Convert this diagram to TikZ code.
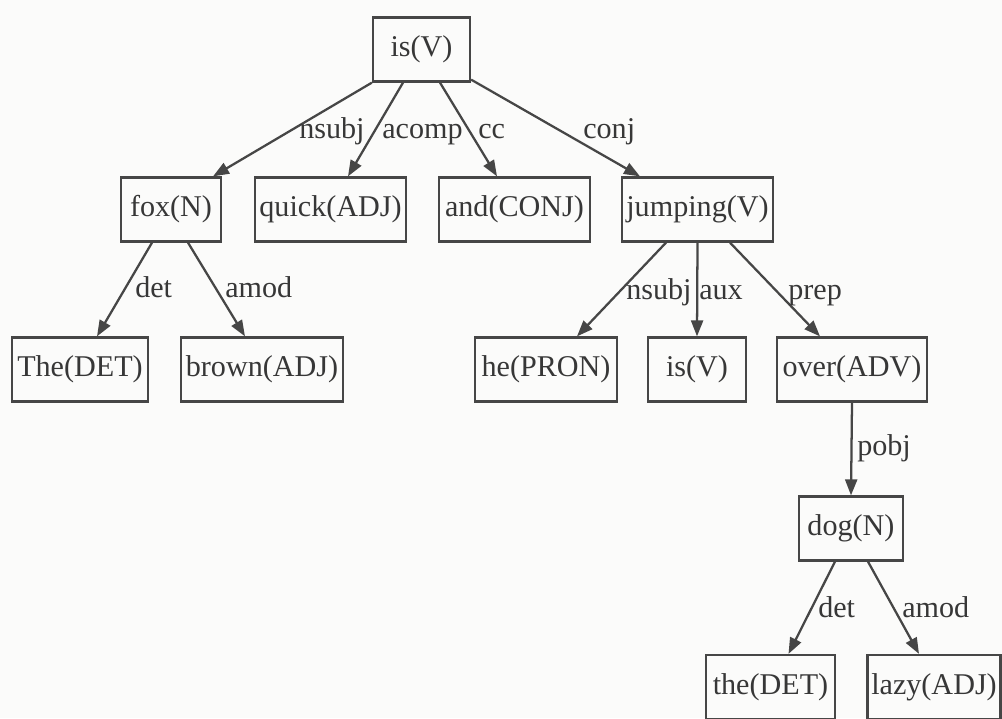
\documentclass[tikz,border=0pt]{standalone}
\usepackage{fontspec}
\setmainfont{Liberation Serif}
\usetikzlibrary{arrows.meta,calc}
\definecolor{paper}{RGB}{251,251,250}
\definecolor{ink}{RGB}{70,70,70}
\definecolor{txt}{RGB}{55,55,55}
\tikzset{
  box/.style={draw=ink, line width=1.7pt, rectangle, inner sep=0pt,
    minimum height=48pt, minimum width=#1, text=txt,
    font=\fontsize{22.6pt}{24pt}\selectfont},
  dep/.style={draw=ink, line width=1.7pt,
    -{Triangle[length=12pt,width=9pt]}},
  rel/.style={anchor=base west, inner sep=0pt, text=txt,
    font=\fontsize{22.6pt}{24pt}\selectfont}
}
\begin{document}
\begin{tikzpicture}[x=0.75pt,y=-0.75pt]
% page
\fill[paper] (0,0) rectangle (1002,718);
\useasboundingbox (0,0) rectangle (1002,718);

% words of the sentence
\node[box=72.75pt]  (isv)   at (421.5,49.5)  {is(V)};
\node[box=75pt]     (fox)   at (171,209.5)   {fox(N)};
\node[box=113.25pt] (quick) at (330.5,209.5) {quick(ADJ)};
\node[box=113.25pt] (and)   at (514.5,209.5) {and(CONJ)};
\node[box=113.25pt] (jump)  at (697.5,209.5) {jumping(V)};
\node[box=102pt]    (The)   at (80,369.5)    {The(DET)};
\node[box=121.5pt]  (brown) at (262,369.5)   {brown(ADJ)};
\node[box=106.5pt]  (he)    at (546,369.5)   {he(PRON)};
\node[box=73.5pt]   (isb)   at (697,369.5)   {is(V)};
\node[box=112.5pt]  (over)  at (852,369.5)   {over(ADV)};
\node[box=78pt]     (dog)   at (851,528.5)   {dog(N)};
\node[box=96.75pt]  (the)   at (770.5,687)   {the(DET)};
\node[box=99.75pt]  (lazy)  at (934,687)     {lazy(ADJ)};

% dependency arcs
\draw[dep] (isv.south west) -- ($(fox.north)+(42,0)$);
\draw[dep] ($(isv.south)+(-18.5,0)$) -- ($(quick.north)+(17.5,0)$);
\draw[dep] ($(isv.south)+(18.5,0)$) -- ($(and.north)+(-17.5,0)$);
\draw[dep] ($(isv.south east)+(0,-3)$) -- ($(jump.north)+(-57.5,0)$);
\draw[dep] ($(fox.south)+(-19,0)$) -- ($(The.north)+(17,0)$);
\draw[dep] ($(fox.south)+(17,0)$) -- ($(brown.north)+(-17,0)$);
\draw[dep] ($(jump.south)+(-31.5,0)$) -- ($(he.north)+(31,0)$);
\draw[dep] (jump.south) -- (isb.north);
\draw[dep] ($(jump.south)+(32.5,0)$) -- ($(over.north)+(-32,0)$);
\draw[dep] (over.south) -- (dog.north);
\draw[dep] ($(dog.south)+(-16,0)$) -- ($(the.north)+(18,0)$);
\draw[dep] ($(dog.south)+(17,0)$) -- ($(lazy.north)+(-15,0)$);

% relation names
\node[rel] (l1)  at (299,138) {nsubj};
\node[rel] (l2)  at (382,138) {acomp};
\node[rel] (l3)  at (478,138) {cc};
\node[rel] (l4)  at (583,138) {conj};
\node[rel] (l5)  at (135,297) {det};
\node[rel] (l6)  at (225,297) {amod};
\node[rel] (l7)  at (626,299) {nsubj};
\node[rel] (l8)  at (699,299) {aux};
\node[rel] (l9)  at (788,299) {prep};
\node[rel] (l10) at (857,455) {pobj};
\node[rel] (l11) at (818,617) {det};
\node[rel] (l12) at (902,617) {amod};
\end{tikzpicture}
\end{document}
